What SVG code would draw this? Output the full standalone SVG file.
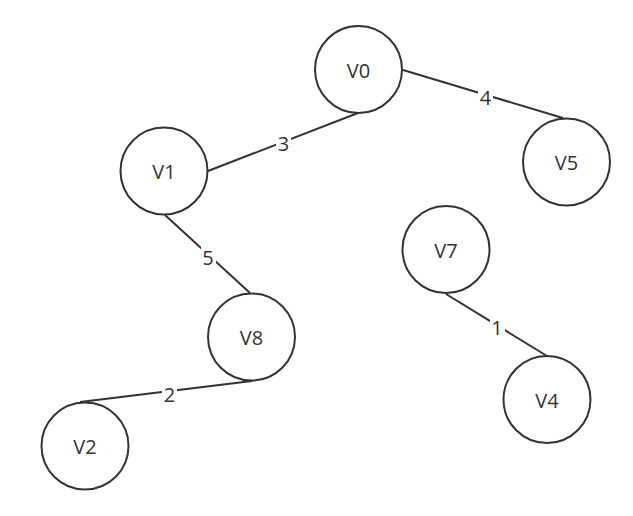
<svg xmlns="http://www.w3.org/2000/svg" width="633" height="516" viewBox="0 0 633 516">
<style>
.n circle{fill:#fff;stroke:#333;stroke-width:2}
text{font-family:"Open Sans","Noto Sans","Liberation Sans",sans-serif;font-size:20px;fill:#333;text-anchor:middle;dominant-baseline:central}
.e line{stroke:#333;stroke-width:2}
.lb{fill:#fff}
</style>
<rect width="633" height="516" fill="#fff"/>
<g id="edges" class="e">
<line x1="403" y1="70" x2="563" y2="118"/>
<line x1="358" y1="113" x2="208" y2="171"/>
<line x1="165" y1="215" x2="250" y2="293"/>
<line x1="80" y1="402" x2="252" y2="381"/>
<line x1="446" y1="294" x2="547" y2="356"/>
<rect class="lb" x="478" y="87" width="15" height="20"/>
<text x="485.5" y="97">4</text>
<rect class="lb" x="276" y="133" width="15" height="20"/>
<text x="283.5" y="143">3</text>
<rect class="lb" x="201" y="247" width="15" height="20"/>
<text x="208" y="257">5</text>
<rect class="lb" x="162" y="384" width="15" height="20"/>
<text x="169.5" y="394">2</text>
<rect class="lb" x="490" y="317" width="15" height="20"/>
<text x="497" y="327">1</text>
</g>
<g id="V0" class="n"><circle cx="358.5" cy="69.5" r="43.5"/><text x="358.5" y="70">V0</text></g>
<g id="V5" class="n"><circle cx="566.5" cy="162" r="43.5"/><text x="566.5" y="162.5">V5</text></g>
<g id="V1" class="n"><circle cx="164" cy="171" r="43.5"/><text x="164" y="171.5">V1</text></g>
<g id="V8" class="n"><circle cx="251.5" cy="337" r="43.5"/><text x="251.5" y="337.5">V8</text></g>
<g id="V2" class="n"><circle cx="85" cy="446" r="43.5"/><text x="85" y="446.5">V2</text></g>
<g id="V7" class="n"><circle cx="446" cy="249.5" r="43.5"/><text x="446" y="250">V7</text></g>
<g id="V4" class="n"><circle cx="547" cy="399.5" r="43.5"/><text x="547" y="400">V4</text></g>
</svg>
